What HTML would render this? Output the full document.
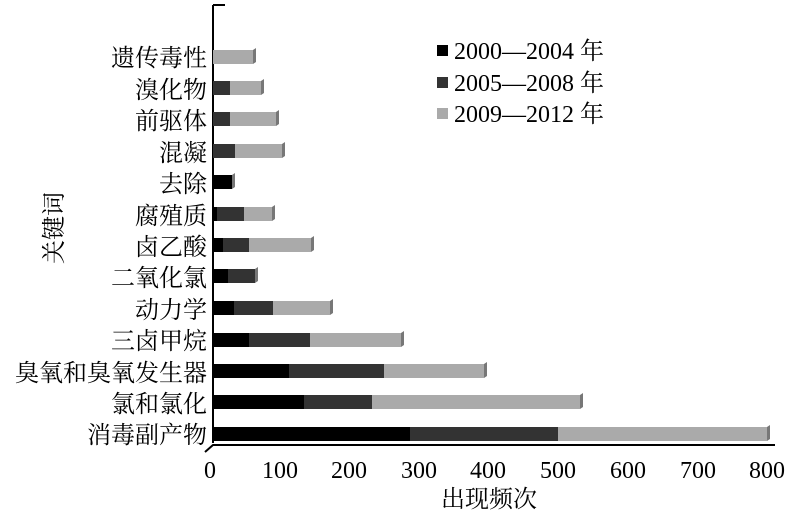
<!DOCTYPE html>
<html><head><meta charset="utf-8"><style>
body{margin:0;background:#fff;width:800px;height:517px;overflow:hidden}
text{font-family:"Liberation Serif","Noto Serif CJK SC","Noto Sans CJK SC",serif;font-size:24px;fill:#000}
</style></head><body>
<svg width="800" height="517" xmlns="http://www.w3.org/2000/svg">
<line x1="213" y1="5" x2="213" y2="443" stroke="#000" stroke-width="2"/>
<line x1="213" y1="5" x2="225" y2="5" stroke="#000" stroke-width="2"/>
<polyline points="205,452 213,445 775,445" fill="none" stroke="#000" stroke-width="2"/>
<g id="bars"></g>
<g style="font-size:23px">
<text x="210" y="478" text-anchor="middle">0</text>
<text x="280" y="478" text-anchor="middle">100</text>
<text x="349" y="478" text-anchor="middle">200</text>
<text x="419" y="478" text-anchor="middle">300</text>
<text x="488" y="478" text-anchor="middle">400</text>
<text x="558" y="478" text-anchor="middle">500</text>
<text x="628" y="478" text-anchor="middle">600</text>
<text x="698" y="478" text-anchor="middle">700</text>
<text x="767" y="478" text-anchor="middle">800</text>
</g>
<text x="489" y="507" text-anchor="middle">出现频次</text>
<text transform="translate(62,228) rotate(-90)" text-anchor="middle">关键词</text>
<g text-anchor="end">
<text x="207" y="66">遗传毒性</text>
<text x="207" y="98">溴化物</text>
<text x="207" y="129">前驱体</text>
<text x="207" y="161">混凝</text>
<text x="207" y="192">去除</text>
<text x="207" y="224">腐殖质</text>
<text x="207" y="255">卤乙酸</text>
<text x="207" y="286">二氧化氯</text>
<text x="207" y="318">动力学</text>
<text x="207" y="349">三卤甲烷</text>
<text x="207" y="381">臭氧和臭氧发生器</text>
<text x="207" y="412">氯和氯化</text>
<text x="207" y="443">消毒副产物</text>
</g>
<rect x="437" y="45" width="11" height="11" fill="#000"/>
<rect x="437" y="77" width="11" height="11" fill="#333"/>
<rect x="437" y="108" width="11" height="11" fill="#aaa"/>
<text x="454" y="59">2000—2004 年</text>
<text x="454" y="91">2005—2008 年</text>
<text x="454" y="122">2009—2012 年</text>
</svg>
<script>
var rows=[[57,213,213,253],[88,213,230,261],[119,213,230,276],[151,213,235,282],[182,232,232,232],[214,217,244,272],[245,223,249,311],[276,228,255,255],[308,234,273,330],[340,249,310,401],[371,289,384,484],[402,304,372,580],[434,410,558,767]];
var g=document.getElementById('bars'),s='';
rows.forEach(function(r){var y=r[0]-7,h=14,x=213;
var c=['#000','#333','#aaa'];
for(var i=0;i<3;i++){var e=r[i+1];if(e>x){s+='<rect x="'+x+'" y="'+y+'" width="'+(e-x)+'" height="'+h+'" fill="'+c[i]+'"/>';x=e;}}
s+='<polygon points="'+x+','+y+' '+(x+3)+','+(y-2)+' '+(x+3)+','+(y+h-2)+' '+x+','+(y+h)+'" fill="#777"/>';
});
g.innerHTML=s;
</script>
</body></html>
